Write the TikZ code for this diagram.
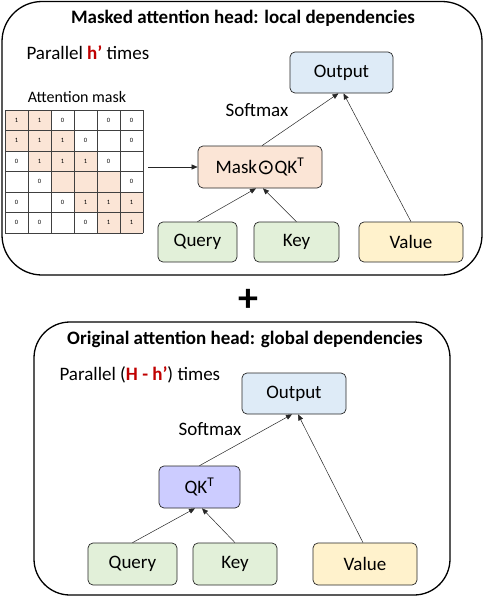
\documentclass[tikz,border=0pt]{standalone}
\usepackage{fontspec}
\setmainfont{Carlito}
\newfontfamily\symfont{DejaVu Sans}
\usetikzlibrary{arrows.meta}
\definecolor{outblue}{HTML}{DEEBF7}
\definecolor{maskpeach}{HTML}{FBE5D6}
\definecolor{qkgreen}{HTML}{E2F0D9}
\definecolor{valyellow}{HTML}{FFF2CC}
\definecolor{qkpurple}{HTML}{CCCCFF}
\definecolor{hred}{HTML}{C00000}
\begin{document}
\begin{tikzpicture}[x=1pt,y=-1pt,
  body/.style={font=\fontsize{19}{22}\selectfont},
  ttl/.style={font=\bfseries\fontsize{19}{22}\selectfont},
  box/.style={draw=black!85, line width=0.7pt, rounded corners=5pt, inner sep=0pt,
              minimum height=41pt, font=\fontsize{19}{22}\selectfont},
  container/.style={draw=black, line width=1.3pt, rounded corners=40pt},
  arr/.style={-{Triangle[length=6pt,width=5pt]}, line width=0.5pt, draw=black!85},
  cellnum/.style={font=\fontsize{6.5}{7}\selectfont, inner sep=0pt}
]
\useasboundingbox (0,0) rectangle (484,598);

% ---------- top container ----------
\draw[container] (2,1.5) rectangle (482,275);
\node[ttl] (title1) at (243,18) {Masked attention head: local dependencies};
\node[body, anchor=west] (par1) at (23,53) {Parallel \textcolor{hred}{\textbf{h’}} times};
\node[font=\fontsize{16}{18}\selectfont] (amlabel) at (77,97) {Attention mask};

% attention mask grid
\foreach \r/\c in {1/1,1/2,2/1,2/2,2/3,3/2,3/3,3/4,4/3,4/4,4/5,5/4,5/5,5/6,6/5,6/6}
  \fill[maskpeach] ({5+23*(\c-1)},{110+20.5*(\r-1)}) rectangle ++(23,20.5);
\foreach \r/\c/\t in {1/1/1,1/2/1,1/3/0,1/5/0,1/6/0,
                      2/1/1,2/2/1,2/3/1,2/4/0,2/6/0,
                      3/1/0,3/2/1,3/3/1,3/4/1,3/5/0,
                      4/2/0,4/6/0,
                      5/1/0,5/3/0,5/4/1,5/5/1,5/6/1,
                      6/1/0,6/2/0,6/4/0,6/5/1,6/6/1}
  \node[cellnum] (cell-\r-\c) at ({5+23*(\c-1)+11.5},{110+20.5*(\r-1)+10.25}) {\t};
\foreach \i in {0,...,6} {
  \draw[black!75, line width=0.6pt] ({5+23*\i},110) -- ({5+23*\i},233);
  \draw[black!75, line width=0.6pt] (5,{110+20.5*\i}) -- (143,{110+20.5*\i});
}
\coordinate (gridout) at (148,167);

% nodes
\node[box, fill=outblue, minimum width=103pt] (out1) at (341.5,72.5) {Output};
\node[box, fill=maskpeach, minimum width=124pt, minimum height=42pt] (mask) at (260,167)
  {Mask\raisebox{-1.5pt}{\symfont\fontsize{21}{21}\selectfont ⊙}QK\textsuperscript{T}};
\node[box, fill=qkgreen, minimum width=79pt, minimum height=40pt] (q1) at (197.5,242) {Query};
\node[box, fill=qkgreen, minimum width=85pt, minimum height=40pt] (k1) at (296.5,242) {Key};
\node[box, fill=valyellow, minimum width=104pt, minimum height=40pt] (v1) at (411,242) {Value};
\node[body] (soft1) at (257,110) {Softmax};

\draw[arr] (gridout) -- (mask.west);
\draw[arr] (q1.north) -- ([xshift=-4pt]mask.south);
\draw[arr] (k1.north) -- ([xshift=3pt]mask.south);
\draw[arr] ([xshift=2pt]mask.north) -- ([xshift=-3pt]out1.south);
\draw[arr] (v1.north) -- ([xshift=2pt]out1.south);

% plus
\node[font=\bfseries\fontsize{40}{40}\selectfont] (plus) at (248,300) {+};

% ---------- bottom container ----------
\draw[container, rounded corners=36pt] (34,322) rectangle (450,595);
\node[ttl] (title2) at (245,339) {Original attention head: global dependencies};
\node[body, anchor=west] (par2) at (56,375)
  {Parallel (\textcolor{hred}{\textbf{H - h’}}) times};

\node[box, fill=outblue, minimum width=104pt] (out2) at (294,393.5) {Output};
\node[box, fill=qkpurple, minimum width=81pt, minimum height=42pt] (qk) at (199.5,487) {QK\textsuperscript{T}};
\node[box, fill=qkgreen, minimum width=89pt, minimum height=42pt] (q2) at (132.5,564) {Query};
\node[box, fill=qkgreen, minimum width=84pt, minimum height=42pt] (k2) at (235,564) {Key};
\node[box, fill=valyellow, minimum width=104pt, minimum height=42pt] (v2) at (365,564) {Value};
\node[body] (soft2) at (210,429) {Softmax};

\draw[arr] (q2.north) -- ([xshift=-4.5pt]qk.south);
\draw[arr] (k2.north) -- ([xshift=2.5pt]qk.south);
\draw[arr] (qk.north) -- ([xshift=-2pt]out2.south);
\draw[arr] ([xshift=-2pt]v2.north) -- ([xshift=4pt]out2.south);
\end{tikzpicture}
\end{document}
